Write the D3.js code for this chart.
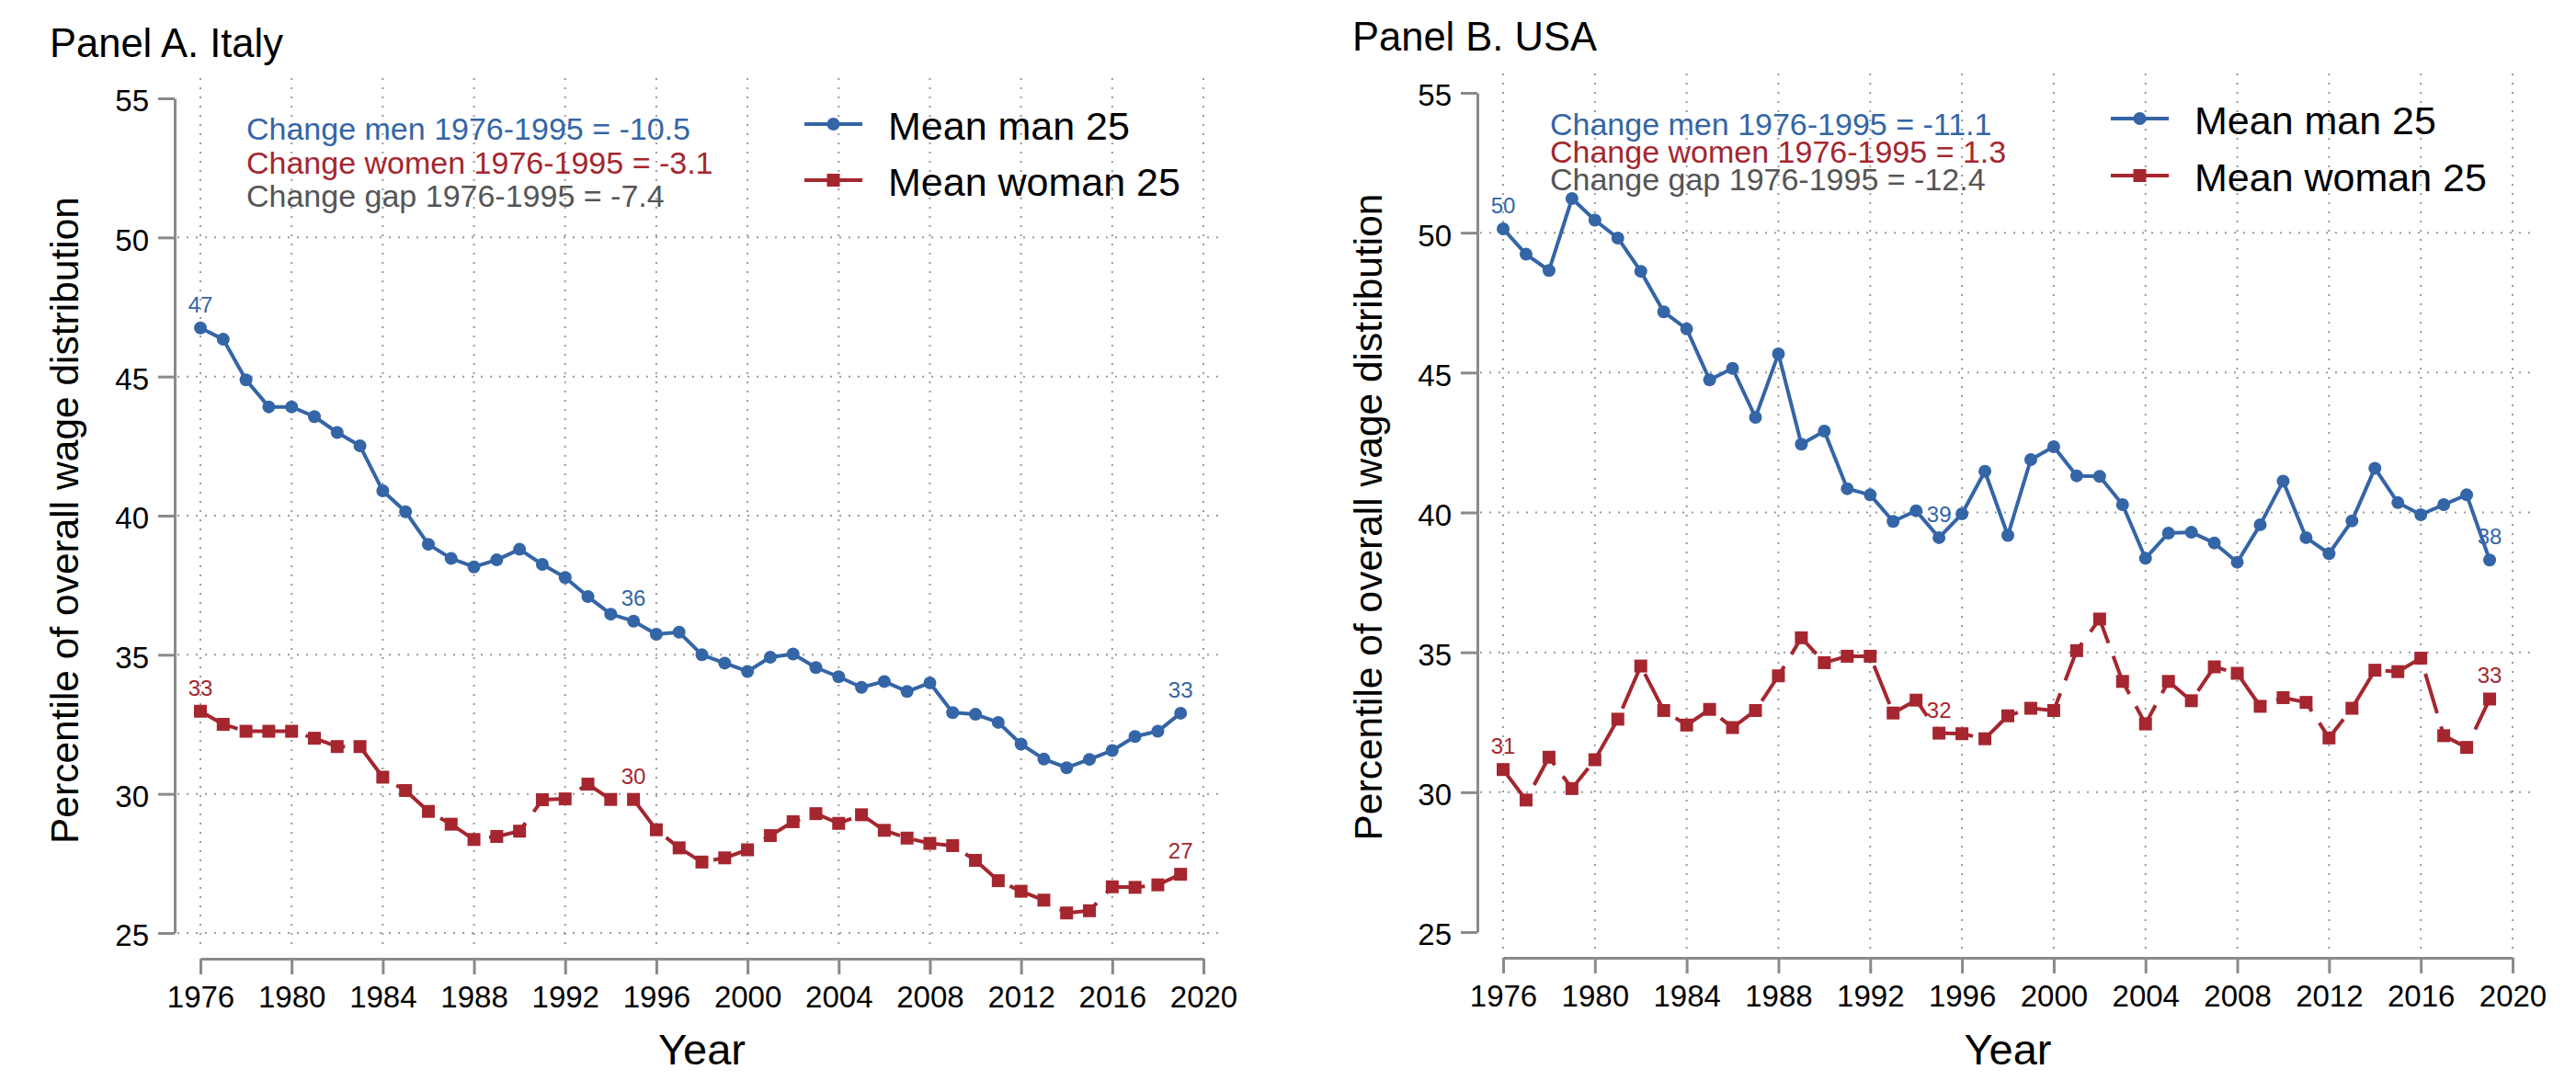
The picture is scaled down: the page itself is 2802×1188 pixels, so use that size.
<!DOCTYPE html>
<html lang="en">
<head>
<meta charset="UTF-8">
<script src="https://cdnjs.cloudflare.com/ajax/libs/d3/7.8.5/d3.min.js"></script>
<style>
    html, body {
        margin: 0;
        padding: 0;
        background: #fff;
    }

    svg {
        display: block;
        font-family: "Liberation Sans", Arial, Helvetica, sans-serif;
    }
</style>
</head>
<body>
<svg id="chart" width="2802" height="1188"></svg>
<script>
    // data (percentile of overall wage distribution)
    var years = [1976, 1977, 1978, 1979, 1980, 1981, 1982, 1983, 1984, 1985,
                 1986, 1987, 1988, 1989, 1990, 1991, 1992, 1993, 1994, 1995,
                 1996, 1997, 1998, 1999, 2000, 2001, 2002, 2003, 2004, 2005,
                 2006, 2007, 2008, 2009, 2010, 2011, 2012, 2013, 2014, 2015,
                 2016, 2017, 2018, 2019];

    var italyMen = [46.75, 46.34, 44.88, 43.91, 43.91, 43.56, 42.99, 42.51, 40.89, 40.14,
                    38.97, 38.46, 38.16, 38.41, 38.79, 38.25, 37.78, 37.09, 36.46, 36.21,
                    35.74, 35.81, 35.00, 34.70, 34.40, 34.91, 35.03, 34.54, 34.21, 33.83,
                    34.04, 33.68, 33.99, 32.92, 32.86, 32.57, 31.79, 31.25, 30.94, 31.24,
                    31.56, 32.06, 32.25, 32.90];

    var italyWomen = [32.97, 32.50, 32.25, 32.25, 32.25, 32.00, 31.70, 31.70, 30.60, 30.12,
                      29.37, 28.91, 28.36, 28.47, 28.66, 29.79, 29.82, 30.35, 29.80, 29.80,
                      28.71, 28.06, 27.55, 27.70, 27.99, 28.50, 29.00, 29.29, 28.94, 29.25,
                      28.69, 28.41, 28.22, 28.14, 27.61, 26.88, 26.50, 26.18, 25.72, 25.80,
                      26.66, 26.64, 26.73, 27.11];

    var usaMen = [50.14, 49.23, 48.65, 51.22, 50.45, 49.81, 48.62, 47.17, 46.56, 44.74,
                  45.15, 43.40, 45.67, 42.44, 42.91, 40.85, 40.63, 39.68, 40.06, 39.10,
                  39.95, 41.47, 39.18, 41.89, 42.35, 41.31, 41.29, 40.28, 38.36, 39.26,
                  39.29, 38.91, 38.22, 39.56, 41.12, 39.10, 38.53, 39.70, 41.58, 40.35,
                  39.92, 40.28, 40.63, 38.30];

    var usaWomen = [30.81, 29.72, 31.25, 30.13, 31.16, 32.61, 34.51, 32.92, 32.40, 32.96,
                    32.31, 32.92, 34.16, 35.52, 34.63, 34.86, 34.86, 32.83, 33.29, 32.11,
                    32.09, 31.91, 32.73, 33.00, 32.92, 35.06, 36.19, 33.96, 32.44, 33.96,
                    33.27, 34.48, 34.25, 33.07, 33.38, 33.21, 31.94, 33.00, 34.36, 34.31,
                    34.79, 32.02, 31.60, 33.33];

    var labelYears = [1976, 1995, 2019];
    var xTicks = [1976, 1980, 1984, 1988, 1992, 1996, 2000, 2004, 2008, 2012, 2016, 2020];
    var yTicks = [25, 30, 35, 40, 45, 50, 55];

    var italyNotes = ["Change men 1976-1995 = -10.5",
                      "Change women 1976-1995 = -3.1",
                      "Change gap 1976-1995 = -7.4"];
    var usaNotes = ["Change men 1976-1995 = -11.1",
                    "Change women 1976-1995 = 1.3",
                    "Change gap 1976-1995 = -12.4"];
    var legendLabels = ["Mean man 25", "Mean woman 25"];

    var blue = "#3465a6";
    var red = "#a5262f";
    var gray = "#555555";
    var axisGray = "#8a8a8a";
    var gridGray = "#9a9a9a";

    var panels = [
        {title: "Panel A. Italy", men: italyMen, women: italyWomen, notes: italyNotes,
            x0: 218, x1: 1309, yTop: 107, yBot: 1015, axisX: 190, plotTop: 85, plotBot: 1033,
            plotRight: 1330, xAxisY: 1043, titleX: 54, titleY: 62, yTitleX: 85,
            noteX: 268, noteY: 152, noteGap: 36.5, legX: 875, legY: 135, legGap: 61,
            grid: [25, 30, 35, 40, 45, 50]},
        {title: "Panel B. USA", men: usaMen, women: usaWomen, notes: usaNotes,
            x0: 1635, x1: 2733, yTop: 101, yBot: 1014, axisX: 1607, plotTop: 80, plotBot: 1033,
            plotRight: 2753, xAxisY: 1042, titleX: 1471, titleY: 55, yTitleX: 1503,
            noteX: 1686, noteY: 147, noteGap: 30, legX: 2296, legY: 129, legGap: 62,
            grid: [30, 35, 40, 45, 50]}
    ];

    var svg = d3.select("#chart");

    function drawPanel(p) {
        var g = svg.append("g");

        var x = d3.scaleLinear().domain([1976, 2020]).range([p.x0, p.x1]);
        var y = d3.scaleLinear().domain([25, 55]).range([p.yBot, p.yTop]);

        // grid
        g.append("g").selectAll("line.h").data(p.grid).enter().append("line")
            .attr("x1", p.axisX + 3).attr("x2", p.plotRight)
            .attr("y1", function (d) { return y(d); }).attr("y2", function (d) { return y(d); })
            .attr("stroke", gridGray).attr("stroke-width", 2).attr("stroke-dasharray", "2,8");
        g.append("g").selectAll("line.v").data(xTicks).enter().append("line")
            .attr("x1", function (d) { return x(d); }).attr("x2", function (d) { return x(d); })
            .attr("y1", p.plotTop).attr("y2", p.plotBot)
            .attr("stroke", gridGray).attr("stroke-width", 2).attr("stroke-dasharray", "2,8");

        // axes
        var yAxis = g.append("g").attr("transform", "translate(" + p.axisX + ",0)")
            .call(d3.axisLeft(y).tickValues(yTicks).tickSize(18).tickSizeOuter(0).tickPadding(10));
        var xAxis = g.append("g").attr("transform", "translate(0," + p.xAxisY + ")")
            .call(d3.axisBottom(x).tickValues(xTicks).tickFormat(d3.format("d"))
                .tickSize(17).tickSizeOuter(0).tickPadding(13));
        [yAxis, xAxis].forEach(function (a) {
            a.select(".domain").attr("stroke", axisGray).attr("stroke-width", 3);
            a.selectAll(".tick line").attr("stroke", axisGray).attr("stroke-width", 3);
            a.selectAll(".tick text").attr("fill", "#000").style("font-size", "33px")
                .style("font-family", "'Liberation Sans', Arial, sans-serif");
        });
        yAxis.selectAll(".tick text").attr("dy", "0.42em");

        // titles
        g.append("text").attr("x", p.titleX).attr("y", p.titleY)
            .style("font-size", "43.5px").attr("fill", "#000").text(p.title);
        g.append("text").attr("x", (p.x0 + p.x1) / 2).attr("y", 1158)
            .attr("text-anchor", "middle").style("font-size", "47px").text("Year");
        g.append("text")
            .attr("transform", "translate(" + p.yTitleX + "," + ((p.yTop + p.yBot) / 2 + 5) + ") rotate(-90)")
            .attr("text-anchor", "middle").style("font-size", "42.5px")
            .text("Percentile of overall wage distribution");

        // series
        var series = [
            {vals: p.men, color: blue, dash: null, shape: "circle"},
            {vals: p.women, color: red, dash: "45,15", shape: "square"}
        ];
        var line = d3.line()
            .x(function (d) { return x(d.year); })
            .y(function (d) { return y(d.v); });

        series.forEach(function (s) {
            var pts = years.map(function (yr, i) { return {year: yr, v: s.vals[i]}; });
            g.append("path").datum(pts).attr("d", line).attr("fill", "none")
                .attr("stroke", s.color).attr("stroke-width", 4)
                .attr("stroke-linejoin", "round")
                .attr("stroke-dasharray", s.dash);
            if (s.shape === "circle") {
                g.append("g").selectAll("circle").data(pts).enter().append("circle")
                    .attr("cx", function (d) { return x(d.year); })
                    .attr("cy", function (d) { return y(d.v); })
                    .attr("r", 7).attr("fill", s.color);
            } else {
                g.append("g").selectAll("rect").data(pts).enter().append("rect")
                    .attr("x", function (d) { return x(d.year) - 7; })
                    .attr("y", function (d) { return y(d.v) - 7; })
                    .attr("width", 14).attr("height", 14).attr("fill", s.color);
            }
            g.append("g").selectAll("text").data(pts.filter(function (d) {
                return labelYears.indexOf(d.year) >= 0;
            })).enter().append("text")
                .attr("x", function (d) { return x(d.year); })
                .attr("y", function (d) { return y(d.v) - 17; })
                .attr("text-anchor", "middle").style("font-size", "24px")
                .attr("fill", s.color)
                .text(function (d) { return d3.format(".0f")(d.v); });
        });

        // notes
        var noteColors = [blue, red, gray];
        p.notes.forEach(function (t, i) {
            g.append("text").attr("x", p.noteX).attr("y", p.noteY + i * p.noteGap)
                .style("font-size", "34px").attr("fill", noteColors[i]).text(t);
        });

        // legend
        series.forEach(function (s, i) {
            var ly = p.legY + i * p.legGap;
            g.append("line").attr("x1", p.legX).attr("x2", p.legX + 63)
                .attr("y1", ly).attr("y2", ly)
                .attr("stroke", s.color).attr("stroke-width", 4);
            if (s.shape === "circle") {
                g.append("circle").attr("cx", p.legX + 31.5).attr("cy", ly).attr("r", 7).attr("fill", s.color);
            } else {
                g.append("rect").attr("x", p.legX + 24.5).attr("y", ly - 7)
                    .attr("width", 14).attr("height", 14).attr("fill", s.color);
            }
            g.append("text").attr("x", p.legX + 91).attr("y", ly + 17)
                .style("font-size", "43px").attr("fill", "#000").text(legendLabels[i]);
        });
    }

    panels.forEach(drawPanel);
</script>
</body>
</html>
